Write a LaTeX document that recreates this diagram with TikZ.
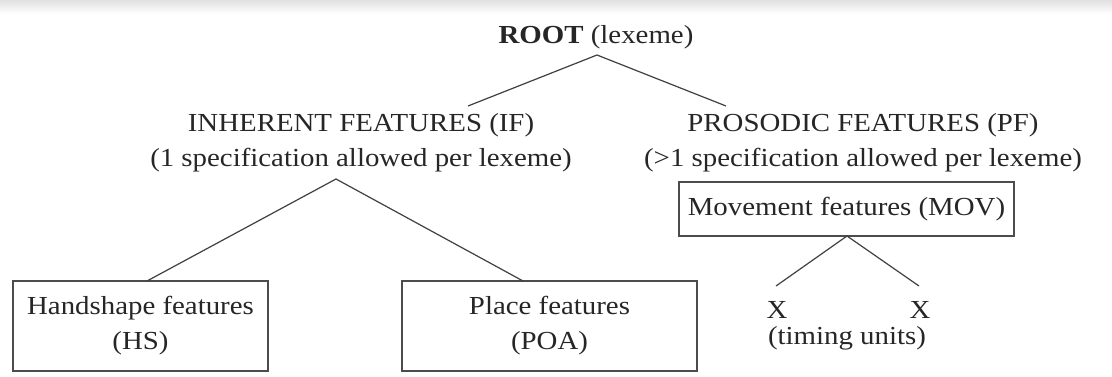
\documentclass[tikz,border=0pt]{standalone}
\usepackage{fontspec}
\setmainfont[FakeStretch=1.11]{Liberation Serif}
\begin{document}
\begin{tikzpicture}[x=1pt,y=-1pt,
  txt/.style={inner sep=0pt, text=black!85, font=\fontsize{26}{35}\selectfont, align=center},
  featbox/.style={draw=black!70, line width=1.4pt, inner sep=0pt, text=black!85,
    font=\fontsize{26}{35}\selectfont, align=center},
  branch/.style={draw=black!75, line width=1.2pt}]
\useasboundingbox (0,0) rectangle (1112,377);
\fill[white] (0,0) rectangle (1112,377);
\shade[top color=black!12, bottom color=white] (0,0) rectangle (1112,14);

% nodes
\node[txt] (root) at (596,37) {\textbf{ROOT} (lexeme)};
\node[txt] (if) at (361,125) {INHERENT FEATURES (IF)};
\node[txt] (ifsub) at (361,160) {(1 specification allowed per lexeme)};
\node[txt] (pf) at (863,125) {PROSODIC FEATURES (PF)};
\node[txt] (pfsub) at (863,160) {(\textgreater1 specification allowed per lexeme)};
\node[featbox, minimum width=255pt, minimum height=90pt] (hs) at (140.5,326)
  {Handshape features\\(HS)};
\node[featbox, minimum width=295pt, minimum height=90pt] (poa) at (549.5,326)
  {Place features\\(POA)};
\node[featbox, minimum width=335pt, minimum height=54pt] (mov) at (846.5,209)
  {Movement features (MOV)};
\node[txt] (x1) at (777,310) {X};
\node[txt] (x2) at (920,310) {X};
\node[txt] (tu) at (847,338) {(timing units)};

% connector end points
\coordinate (rootapex) at (597,55);
\coordinate (ifend) at (468,106);
\coordinate (pfend) at (726,106);
\coordinate (ifapex) at (336,179);
\coordinate (hstop) at (147,281);
\coordinate (poatop) at (523,281);
\coordinate (movapex) at (847,236);
\coordinate (x1top) at (776,286);
\coordinate (x2top) at (919,286);

\draw[branch] (ifend) -- (rootapex) -- (pfend);
\draw[branch] (hstop) -- (ifapex) -- (poatop);
\draw[branch] (x1top) -- (movapex) -- (x2top);
\end{tikzpicture}
\end{document}
